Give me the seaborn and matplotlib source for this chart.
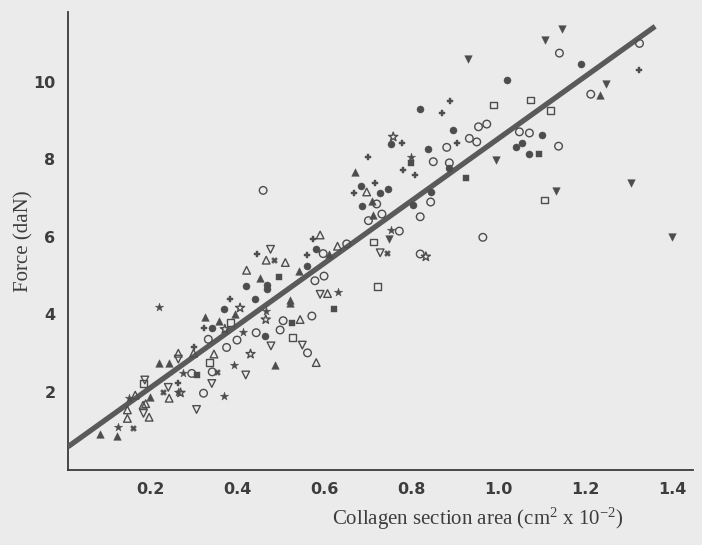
import matplotlib
matplotlib.use("Agg")
import matplotlib.pyplot as plt
import seaborn as sns
import pandas as pd

# ---------------- data ----------------
filled_circle_x = [0.464, 0.582, 0.56, 0.468, 0.468, 0.42, 0.441, 0.369, 0.343,
                   0.753, 0.896, 0.838, 0.888, 0.684, 0.729, 0.746, 0.687, 0.845,
                   0.805, 1.1, 1.041, 1.054, 1.07, 1.19, 0.82, 1.02]
filled_circle_y = [3.44, 5.68, 5.25, 4.76, 4.65, 4.73, 4.39, 4.14, 3.66,
                   8.39, 8.77, 8.28, 7.77, 7.31, 7.12, 7.23, 6.79, 7.16,
                   6.82, 8.62, 8.31, 8.41, 8.13, 10.47, 9.3, 10.05]

open_circle_x = [0.296, 0.343, 0.323, 0.334, 0.376, 0.4, 0.444, 0.562,
                 0.598, 0.652, 0.579, 0.6, 0.506, 0.499, 0.572,
                 0.955, 0.974, 0.934, 0.951, 0.882, 0.851, 0.888, 0.721, 0.733,
                 0.702, 0.773, 0.821, 0.821, 0.845, 0.965, 1.049, 1.072,
                 1.141, 1.325, 1.213, 1.139, 0.46]
open_circle_y = [2.48, 2.52, 1.97, 3.36, 3.15, 3.34, 3.53, 3.01,
                 5.57, 5.82, 4.87, 4.99, 3.84, 3.60, 3.96,
                 8.84, 8.91, 8.54, 8.45, 8.31, 7.94, 7.91, 6.85, 6.59,
                 6.42, 6.15, 5.56, 6.52, 6.90, 5.99, 8.71, 8.68,
                 10.74, 10.99, 9.68, 8.34, 7.2]

filled_tri_up_x = [0.085, 0.125, 0.2, 0.221, 0.244, 0.487, 0.612, 0.543, 0.453,
                   0.395, 0.326, 0.359, 0.522, 0.522, 0.671, 0.710, 0.712, 1.234]
filled_tri_up_y = [0.92, 0.87, 1.88, 2.76, 2.74, 2.70, 5.57, 5.13, 4.93,
                   4.01, 3.94, 3.83, 4.37, 4.30, 7.68, 6.93, 6.56, 9.65]

open_tri_up_x = [0.148, 0.148, 0.166, 0.184, 0.19, 0.198, 0.244, 0.265, 0.3, 0.347,
                 0.591, 0.467, 0.511, 0.631, 0.422, 0.608, 0.545, 0.582, 0.698]
open_tri_up_y = [1.32, 1.54, 1.92, 1.66, 1.7, 1.35, 1.84, 3.0, 3.0, 2.98,
                 6.05, 5.40, 5.34, 5.76, 5.14, 4.54, 3.87, 2.76, 7.16]

open_tri_down_x = [0.185, 0.188, 0.242, 0.265, 0.342, 0.307, 0.42, 0.478, 0.55,
                   0.477, 0.729, 0.591]
open_tri_down_y = [1.45, 2.31, 2.12, 2.85, 2.22, 1.55, 2.44, 3.19, 3.21,
                   5.68, 5.59, 4.52]

filled_tri_down_x = [0.75, 0.995, 1.146, 1.108, 1.248, 1.133, 1.305, 1.4, 0.93]
filled_tri_down_y = [5.94, 7.98, 11.37, 11.09, 9.94, 7.19, 7.38, 6.0, 10.6]

filled_square_x = [0.309, 0.497, 0.526, 0.623, 0.799, 0.926, 1.093]
filled_square_y = [2.44, 4.97, 3.79, 4.13, 7.91, 7.51, 8.13]

open_square_x = [0.185, 0.336, 0.527, 0.713, 0.723, 0.385, 1.107, 1.121, 1.074,
                 0.99]
open_square_y = [2.22, 2.76, 3.41, 5.87, 4.73, 3.80, 6.95, 9.25, 9.53,
                 9.4]

plus_x = [0.265, 0.3, 0.574, 0.447, 0.56, 0.384, 0.323,
          0.779, 0.906, 0.702, 0.781, 0.809, 0.717, 0.669, 1.325,
          0.87, 0.89]
plus_y = [2.24, 3.15, 5.94, 5.56, 5.53, 4.40, 3.64,
          8.43, 8.43, 8.06, 7.72, 7.59, 7.39, 7.12, 10.30,
          9.2, 9.5]

cross_x = [0.160, 0.229, 0.355, 0.485, 0.744]
cross_y = [1.06, 2.01, 2.51, 5.40, 5.59]

filled_star_x = [0.126, 0.152, 0.265, 0.275, 0.369, 0.394, 0.413, 0.633, 0.466,
                 0.753, 0.799, 0.22]
filled_star_y = [1.11, 1.84, 2.01, 2.48, 1.90, 2.70, 3.55, 4.59, 4.09,
                 6.18, 8.06, 4.2]

open_star_x = [0.431, 0.27, 0.407, 0.372, 0.466, 0.759, 0.834]
open_star_y = [2.98, 1.98, 4.17, 3.62, 3.87, 8.58, 5.49]

# regression line end points
line_x = [0.0115, 1.361]
line_y = [0.59, 11.43]

x_ticks = [0.2, 0.4, 0.6, 0.8, 1.0, 1.2, 1.4]
x_tick_labels = ["0.2", "0.4", "0.6", "0.8", "1.0", "1.2", "1.4"]
y_ticks = [2, 4, 6, 8, 10]
y_tick_labels = ["2", "4", "6", "8", "10"]

# ---------------- drawing ----------------
BG = "#ebebeb"
INK = "#4d4d4d"

sns.set_style("white")
plt.rcParams["mathtext.fontset"] = "custom"
plt.rcParams["mathtext.rm"] = "Liberation Serif"
plt.rcParams["mathtext.it"] = "Liberation Serif:italic"

fig = plt.figure(figsize=(7.02, 5.45), dpi=100, facecolor=BG)
ax = fig.add_axes([68 / 702, 1 - 469.6 / 545, 625 / 702, 457.6 / 545])
ax.set_facecolor(BG)

sns.lineplot(x=line_x, y=line_y, ax=ax, color="#5a5a5a", linewidth=3.8,
             solid_capstyle="butt", zorder=3)

series = [
    (filled_circle_x, filled_circle_y, "o", True, 26),
    (open_circle_x, open_circle_y, "o", False, 30),
    (filled_tri_up_x, filled_tri_up_y, "^", True, 30),
    (open_tri_up_x, open_tri_up_y, "^", False, 30),
    (open_tri_down_x, open_tri_down_y, "v", False, 30),
    (filled_tri_down_x, filled_tri_down_y, "v", True, 30),
    (filled_square_x, filled_square_y, "s", True, 22),
    (open_square_x, open_square_y, "s", False, 24),
    (plus_x, plus_y, "P", True, 24),
    (cross_x, cross_y, "X", True, 18),
    (filled_star_x, filled_star_y, "*", True, 40),
    (open_star_x, open_star_y, "*", False, 46),
]
for xs, ys, m, filled, s in series:
    df = pd.DataFrame({"x": xs, "y": ys})
    if filled:
        sns.scatterplot(data=df, x="x", y="y", ax=ax, marker=m, s=s,
                        color=INK, edgecolor=INK, linewidth=0.3, zorder=4)
    else:
        sns.scatterplot(data=df, x="x", y="y", ax=ax, marker=m, s=s,
                        color=INK, facecolors="none", edgecolor=INK,
                        linewidth=1.0, zorder=4)

ax.set_xlim(0.0115, 1.448)
ax.set_ylim(0, 11.8)

for sp in ["top", "right"]:
    ax.spines[sp].set_visible(False)
for sp in ["left", "bottom"]:
    ax.spines[sp].set_color("#3a3a3a")
    ax.spines[sp].set_linewidth(1.3)

ax.set_xticks(x_ticks)
ax.set_xticklabels(x_tick_labels)
ax.set_yticks(y_ticks)
ax.set_yticklabels(y_tick_labels)
ax.tick_params(axis="both", direction="in", length=2.5, width=1, color="#555555",
               labelsize=11.5, labelcolor="#3d3d3d", pad=9)
for lab in ax.get_xticklabels() + ax.get_yticklabels():
    lab.set_fontweight("bold")
    lab.set_family("DejaVu Sans")

ax.set_xlabel("Collagen section area (cm$^{2}$ x 10$^{-2}$)",
              family="Liberation Serif", fontsize=15, color="#3d3d3d")
ax.set_ylabel("Force (daN)", family="Liberation Serif", fontsize=15,
              color="#3d3d3d")
ax.xaxis.set_label_coords(0.655, -0.08)
ax.yaxis.set_label_coords(-0.055, 0.5)

fig.savefig("out.png", dpi=100, facecolor=BG)
